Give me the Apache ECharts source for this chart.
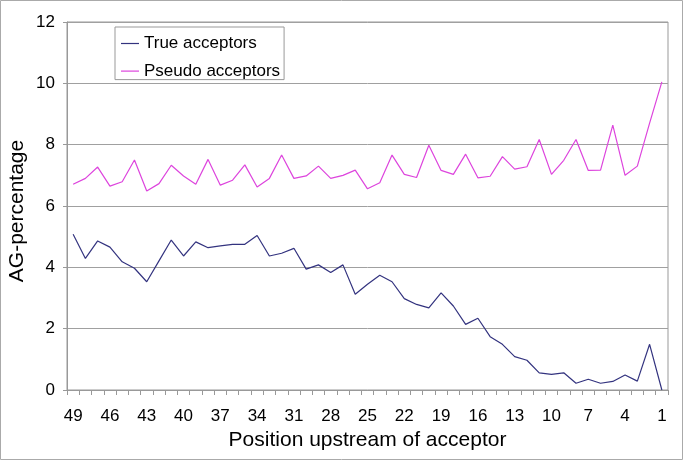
<!DOCTYPE html>
<html>
<head>
<meta charset="utf-8">
<script src="https://cdn.jsdelivr.net/npm/echarts@6/dist/echarts.min.js"></script>
<style>
html,body{margin:0;padding:0;background:#fff;}
#chart{width:685px;height:461px;}
</style>
</head>
<body>
<div id="chart"></div>
<script>
var positions = ['49','48','47','46','45','44','43','42','41','40','39','38','37','36','35','34','33','32','31','30','29','28','27','26','25','24','23','22','21','20','19','18','17','16','15','14','13','12','11','10','9','8','7','6','5','4','3','2','1'];
var trueAcceptors = [5.08,4.29,4.86,4.66,4.18,3.97,3.53,4.21,4.89,4.37,4.83,4.64,4.70,4.75,4.75,5.04,4.37,4.46,4.62,3.94,4.08,3.83,4.08,3.12,3.45,3.74,3.53,2.98,2.79,2.68,3.17,2.74,2.14,2.34,1.74,1.49,1.09,0.97,0.56,0.51,0.56,0.22,0.35,0.22,0.28,0.49,0.29,1.49,0.00];
var pseudoAcceptors = [6.71,6.90,7.27,6.65,6.79,7.50,6.49,6.73,7.33,6.98,6.71,7.52,6.68,6.84,7.34,6.62,6.90,7.66,6.90,6.98,7.30,6.90,7.00,7.17,6.56,6.76,7.66,7.03,6.93,7.98,7.16,7.03,7.69,6.92,6.97,7.61,7.20,7.28,8.17,7.03,7.49,8.17,7.16,7.17,8.64,7.00,7.30,8.70,10.05];
var yTicks = {min: 0, max: 12, step: 2};

var FONT = 'Liberation Sans, Arial, sans-serif';
var chart = echarts.init(document.getElementById('chart'), null, {renderer: 'canvas'});
chart.setOption({
  animation: false,
  backgroundColor: '#fff',
  textStyle: {fontFamily: FONT},
  grid: {left: 67, right: 17, top: 22, bottom: 71, show: true, borderColor: '#999', borderWidth: 1, containLabel: false},
  legend: {
    orient: 'vertical', left: 115, top: 27,
    padding: [8, 4, 0, 6], itemGap: 10.6, itemWidth: 18, itemHeight: 1.2,
    icon: 'rect',
    borderColor: '#999', borderWidth: 1, backgroundColor: '#fff',
    textStyle: {fontSize: 17, color: '#000', lineHeight: 16, fontFamily: FONT},
    data: ['True acceptors', 'Pseudo acceptors']
  },
  xAxis: {
    type: 'category', data: positions, boundaryGap: true,
    axisLine: {lineStyle: {color: '#999', width: 1}},
    axisTick: {show: true, interval: 0, length: 5, lineStyle: {color: '#999'}},
    axisLabel: {interval: 2, fontSize: 17, color: '#000', margin: 18, fontFamily: FONT},
    splitLine: {show: false},
    name: 'Position upstream of acceptor', nameLocation: 'middle', nameGap: 40,
    nameTextStyle: {fontSize: 21, color: '#000', fontFamily: FONT}
  },
  yAxis: {
    type: 'value', min: yTicks.min, max: yTicks.max, interval: yTicks.step,
    axisLine: {show: true, lineStyle: {color: '#999', width: 1}},
    axisTick: {show: true, length: 4, lineStyle: {color: '#999'}},
    axisLabel: {fontSize: 17, color: '#000', margin: 12, fontFamily: FONT},
    splitLine: {show: true, lineStyle: {color: '#a0a0a0', width: 1}}
  },
  graphic: [
    {type: 'rect', shape: {x: 0.5, y: 0.5, width: 682, height: 459}, style: {fill: 'none', stroke: '#aaa', lineWidth: 1}, silent: true, z: -1},
    {type: 'text', x: 17, y: 211, rotation: Math.PI / 2,
     style: {text: 'AG-percentage', fontSize: 21, fontFamily: FONT, fill: '#000', textAlign: 'center', textVerticalAlign: 'middle'}}
  ],
  series: [
    {name: 'True acceptors', type: 'line', data: trueAcceptors, symbol: 'none',
     lineStyle: {color: '#33337f', width: 1.2}, itemStyle: {color: '#33337f'}},
    {name: 'Pseudo acceptors', type: 'line', data: pseudoAcceptors, symbol: 'none',
     lineStyle: {color: '#dd44dd', width: 1.2}, itemStyle: {color: '#dd44dd'}}
  ]
});
</script>
</body>
</html>
